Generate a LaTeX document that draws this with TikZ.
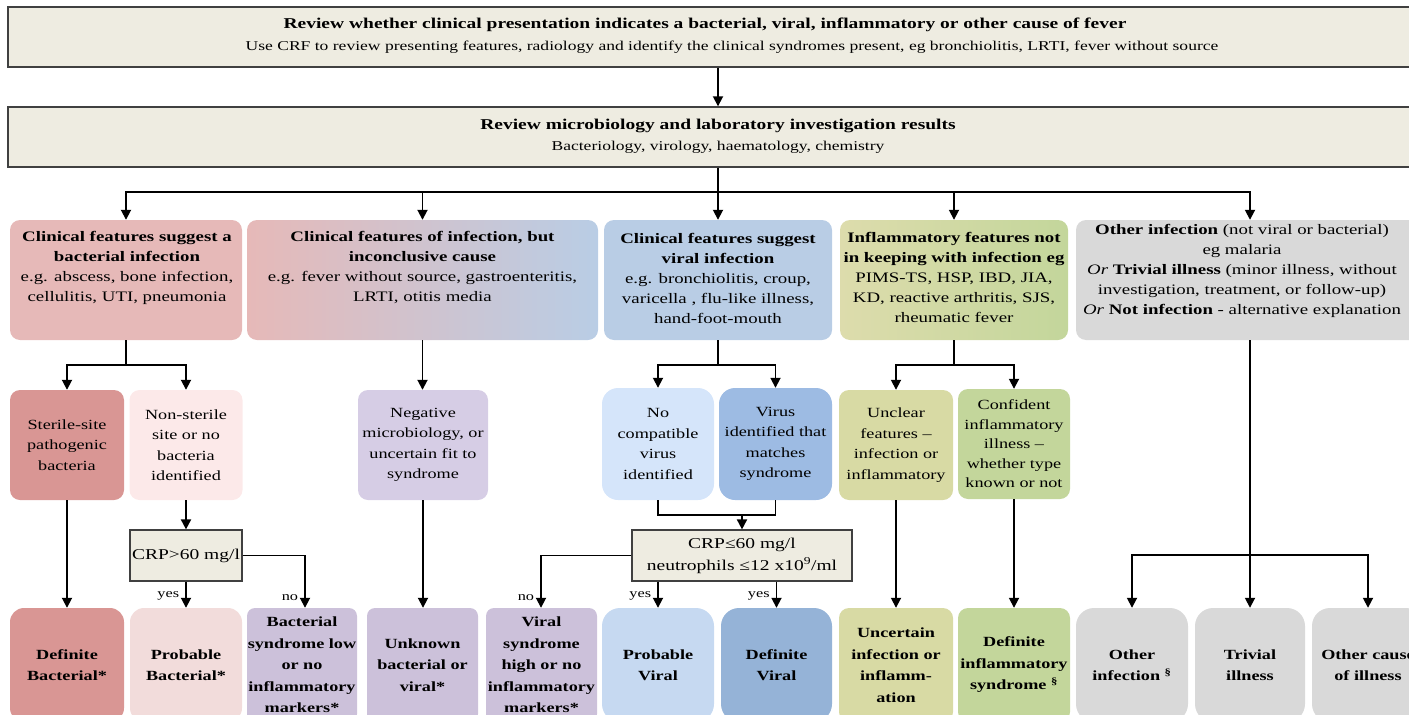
\documentclass[tikz,border=0pt]{standalone}
\usepackage{fontspec}
\setmainfont{Liberation Serif}[FakeStretch=1.3]
\usetikzlibrary{arrows.meta}
\definecolor{beige}{HTML}{EEECE1}
\definecolor{redA}{HTML}{E6B9B8}
\definecolor{redB}{HTML}{D99694}
\definecolor{pinkL}{HTML}{FCE9E9}
\definecolor{pinkM}{HTML}{F2DCDB}
\definecolor{lav}{HTML}{CCC1DA}
\definecolor{lavL}{HTML}{D6CDE5}
\definecolor{blueA}{HTML}{B9CDE5}
\definecolor{blueL}{HTML}{D5E5FA}
\definecolor{blueP}{HTML}{C6D9F1}
\definecolor{blueD}{HTML}{95B3D7}
\definecolor{blueM}{HTML}{9DBBE3}
\definecolor{olive}{HTML}{D8DAA4}
\definecolor{oliveL}{HTML}{DDDCAC}
\definecolor{green}{HTML}{C3D69B}
\definecolor{grey}{HTML}{D9D9D9}
\newcommand\ftitle{\fontsize{15}{21}\selectfont}
\newcommand\fsub{\fontsize{13.5}{20}\selectfont}
\newcommand\frowA{\fontsize{14.5}{20}\selectfont}
\newcommand\frow{\fontsize{14}{20.5}\selectfont}
\newcommand\frowb{\fontsize{14}{21.5}\selectfont}
\newcommand\fcrp{\fontsize{15}{22}\selectfont}
\newcommand\flab{\fontsize{12.5}{13}\selectfont}
\tikzset{
  conn/.style={line width=1.8pt, draw=black},
  arr/.style={conn, -{Triangle[length=10pt,width=10pt]}},
  hbox/.style={draw=black!75, line width=1.4pt, fill=beige, inner sep=0pt},
  rbox/.style={rounded corners=10pt, inner sep=0pt, align=center, font=\frow},
  bbox/.style={rounded corners=14pt, inner sep=0pt, align=center, font=\frowb\bfseries},
  txt/.style={inner sep=0pt, align=center, font=\frowA},
  lab/.style={inner sep=0pt, font=\flab},
}
\begin{document}
\begin{tikzpicture}[x=1pt,y=-1pt]
\useasboundingbox (0,0) rectangle (1409,715);
\clip (0,0) rectangle (1409,715);
% top boxes
\node[hbox, minimum width=1412pt, minimum height=60pt] (top1) at (714,37) {};
\node[txt, font=\ftitle\bfseries] (top1a) at (705,25) {Review whether clinical presentation indicates a bacterial, viral, inflammatory or other cause of fever};
\node[txt, font=\fsub] (top1b) at (732,47) {Use CRF to review presenting features, radiology and identify the clinical syndromes present, eg bronchiolitis, LRTI, fever without source};
\node[hbox, minimum width=1412pt, minimum height=60pt] (top2) at (714,137) {};
\node[txt, font=\ftitle\bfseries] (top2a) at (718,126) {Review microbiology and laboratory investigation results};
\node[txt, font=\fsub] (top2b) at (718,147) {Bacteriology, virology, haematology, chemistry};
% row 1
\node[rbox, fill=redA, minimum width=232pt, minimum height=120pt] (A) at (126,280) {};
\node[txt] (At) at (127,268) {\textbf{Clinical features suggest a}\\\textbf{bacterial infection}\\e.g. abscess, bone infection,\\cellulitis, UTI, pneumonia};
\node[rbox, left color=redA, right color=blueA, minimum width=351pt, minimum height=120pt] (B) at (422.5,280) {};
\node[txt] (Bt) at (422.5,268) {\textbf{Clinical features of infection, but}\\\textbf{inconclusive cause}\\e.g. fever without source, gastroenteritis,\\LRTI, otitis media};
\node[rbox, fill=blueA, minimum width=228pt, minimum height=120pt] (C) at (718,280) {};
\node[txt] (Ct) at (718,278) {\textbf{Clinical features suggest}\\\textbf{viral infection}\\e.g. bronchiolitis, croup,\\varicella , flu-like illness,\\hand-foot-mouth};
\node[rbox, left color=oliveL, right color=green, minimum width=228pt, minimum height=120pt] (D) at (954,280) {};
\node[txt] (Dt) at (954,277) {\textbf{Inflammatory features not}\\\textbf{in keeping with infection eg}\\PIMS-TS, HSP, IBD, JIA,\\KD, reactive arthritis, SJS,\\rheumatic fever};
\node[rbox, fill=grey, minimum width=348pt, minimum height=120pt] (E) at (1250,280) {};
\node[txt] (Et) at (1242,271) {\textbf{Other infection} (not viral or bacterial)\\eg malaria\\\textit{Or} \textbf{Trivial illness} (minor illness, without\\investigation, treatment, or follow-up)\\\textit{Or} \textbf{Not infection} - alternative explanation};
% row 2
\node[rbox, fill=redB, minimum width=114pt, minimum height=110pt] (Ster) at (67,445) {Sterile-site\\pathogenic\\bacteria};
\node[rbox, fill=pinkL, minimum width=113pt, minimum height=110pt] (Nons) at (186,445) {Non-sterile\\site or no\\bacteria\\identified};
\node[rbox, fill=lavL, minimum width=130pt, minimum height=110pt] (Neg) at (423,445) {Negative\\microbiology, or\\uncertain fit to\\syndrome};
\node[rbox, fill=blueL, rounded corners=16pt, minimum width=112pt, minimum height=112pt] (NoVir) at (658,444) {No\\compatible\\virus\\identified};
\node[rbox, fill=blueM, rounded corners=16pt, minimum width=113pt, minimum height=112pt] (VirId) at (775.5,444) {Virus\\identified that\\matches\\syndrome};
\node[rbox, fill=olive, minimum width=114pt, minimum height=110pt] (Uncl) at (896,445) {Unclear\\features --\\infection or\\inflammatory};
\node[rbox, fill=green, minimum width=112pt, minimum height=110pt, font=\fontsize{14}{19.5}\selectfont] (Conf) at (1014,444) {Confident\\inflammatory\\illness --\\whether type\\known or not};
% CRP boxes
\node[hbox, line width=1.2pt, minimum width=112pt, minimum height=51pt, font=\fcrp] (CRP1) at (186,555.5) {CRP\textgreater60 mg/l};
\node[hbox, line width=1.2pt, minimum width=220pt, minimum height=51pt, font=\fcrp, align=center] (CRP2) at (742,555.5) {CRP≤60 mg/l\\neutrophils ≤12 x10\textsuperscript{9}/ml};
% row 3
\node[bbox, fill=redB, minimum width=114pt, minimum height=114pt] (R1) at (67,665) {Definite\\Bacterial*};
\node[bbox, fill=pinkM, minimum width=112pt, minimum height=114pt] (R2) at (186,665) {Probable\\Bacterial*};
\node[bbox, fill=lav, rounded corners=8pt, minimum width=110pt, minimum height=114pt] (R3) at (302,665) {Bacterial\\syndrome low\\or no\\inflammatory\\markers*};
\node[bbox, fill=lav, rounded corners=8pt, minimum width=111pt, minimum height=114pt] (R4) at (422.5,665) {Unknown\\bacterial or\\viral*};
\node[bbox, fill=lav, rounded corners=8pt, minimum width=111pt, minimum height=114pt] (R5) at (541.5,665) {Viral\\syndrome\\high or no\\inflammatory\\markers*};
\node[bbox, fill=blueP, rounded corners=18pt, minimum width=112pt, minimum height=114pt] (R6) at (658,665) {Probable\\Viral};
\node[bbox, fill=blueD, rounded corners=18pt, minimum width=111pt, minimum height=114pt] (R7) at (776.5,665) {Definite\\Viral};
\node[bbox, fill=olive, rounded corners=10pt, minimum width=114pt, minimum height=114pt] (R8) at (896,665) {Uncertain\\infection or\\inflamm-\\ation};
\node[bbox, fill=green, rounded corners=10pt, minimum width=112pt, minimum height=114pt] (R9) at (1014,665) {Definite\\inflammatory\\syndrome \textsuperscript{§}};
\node[bbox, fill=grey, rounded corners=18pt, minimum width=112pt, minimum height=114pt] (R10) at (1132,665) {Other\\infection \textsuperscript{§}};
\node[bbox, fill=grey, rounded corners=18pt, minimum width=110pt, minimum height=114pt] (R11) at (1250,665) {Trivial\\illness};
\node[bbox, fill=grey, rounded corners=18pt, minimum width=112pt, minimum height=114pt] (R12) at (1368,665) {Other cause\\of illness};
% connectors
\coordinate (j0) at (718,192);
\draw[arr] (top1.south -| j0) -- (top2.north -| j0);
\draw[conn] (top2.south -| j0) -- (j0);
\draw[arr] (j0) -| (A.north);
\draw[arr] (j0) -| (B.north);
\draw[arr] (j0) -- (C.north);
\draw[arr] (j0) -| (D.north);
\draw[arr] (j0) -| (E.north);
\coordinate (ja) at (126,365);
\draw[conn] (A.south) -- (ja);
\draw[arr] (ja) -| (Ster.north);
\draw[arr] (ja) -| (Nons.north);
\draw[arr] (B.south) -- (B.south |- Neg.north);
\coordinate (jc) at (718,365);
\draw[conn] (C.south) -- (jc);
\draw[arr] (jc) -| (NoVir.north);
\draw[arr] (jc) -| (VirId.north);
\coordinate (jd) at (954,365);
\draw[conn] (D.south) -- (jd);
\draw[arr] (jd) -| (Uncl.north);
\draw[arr] (jd) -| (Conf.north);
\draw[arr] (Nons.south) -- (CRP1.north);
\draw[arr] (Ster.south) -- (R1.north);
\draw[arr] (CRP1.south) -- node[lab, pos=0.55, left=6pt] (l1) {yes} (R2.north);
\coordinate (k1) at (305,555.5);
\draw[arr] (CRP1.east) -- (k1) -- node[lab, pos=0.8, left=6pt] (l2) {no} (k1 |- R3.north);
\draw[arr] (Neg.south) -- (Neg.south |- R4.north);
\coordinate (jv) at (742,515);
\draw[conn] (NoVir.south) -- (NoVir.south |- jv) -- (VirId.south |- jv) -- (VirId.south);
\draw[arr] (jv) -- (CRP2.north);
\coordinate (k2) at (541,555.5);
\draw[arr] (CRP2.west) -- (k2) -- node[lab, pos=0.8, left=6pt] (l3) {no} (k2 |- R5.north);
\draw[arr] (CRP2.south -| R6.north) -- node[lab, pos=0.55, left=6pt] (l4) {yes} (R6.north);
\draw[arr] (CRP2.south -| R7.north) -- node[lab, pos=0.55, left=6pt] (l5) {yes} (R7.north);
\draw[arr] (Uncl.south) -- (R8.north);
\draw[arr] (Conf.south) -- (R9.north);
\coordinate (je) at (1250,555);
\draw[conn] (E.south) -- (je);
\draw[arr] (je) -| (R10.north);
\draw[arr] (je) -- (R11.north);
\draw[arr] (je) -| (R12.north);
\end{tikzpicture}
\end{document}
